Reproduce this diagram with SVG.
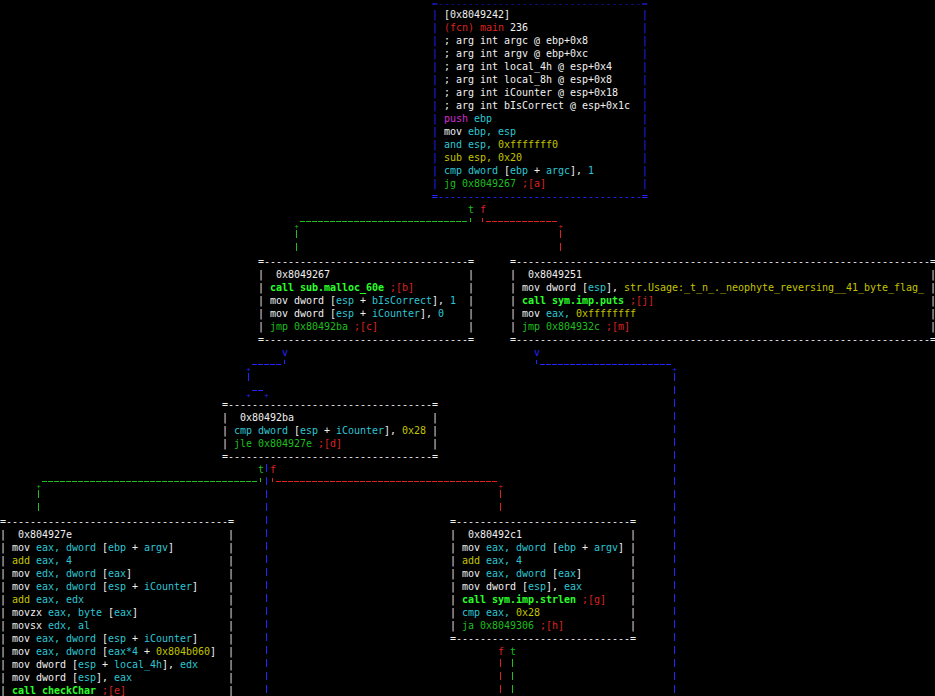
<svg xmlns="http://www.w3.org/2000/svg" width="935" height="696" viewBox="0 0 935 696">
<style>
text{font-family:"DejaVu Sans Mono","Liberation Mono",monospace;font-size:10px;letter-spacing:-0.02px;white-space:pre;fill:#f0f0f0}
.w{fill:#f0f0f0}.c{fill:#2ec5d3}.y{fill:#c4c400}.g{fill:#1dbf1d}.G{fill:#2bff2b;font-weight:bold}.r{fill:#dd2222}.m{fill:#d42ad4}.b{fill:#2424ff}
.k{font-size:7px;text-anchor:middle}
path{fill:none;stroke-width:1;shape-rendering:crispEdges}
.h{stroke-dasharray:5 1}.v{stroke-dasharray:8 5}
.sg{stroke:#1dbf1d}.sr{stroke:#dd2222}.sb{stroke:#2424ff}
</style>
<rect width="935" height="696" fill="#000"/>
<g id="connectors">
<text x="468" y="213" class="g">t</text><text x="480" y="213" class="r">f</text>
<path class="sg" d="M470.5 217.5V221.5"/><path class="sg h" d="M300 221.5H468"/><path class="sg v" d="M296.5 230V251"/><text class="k g" x="296.5" y="228.5">+</text>
<path class="sr" d="M482.5 217.5V221.5"/><path class="sr h" d="M486 221.5H558"/><path class="sr v" d="M560.5 230V251"/><text class="k r" x="560.5" y="228.5">+</text>
<text x="282" y="356" class="b">v</text>
<path class="sb" d="M284.5 359.5V363.5"/><path class="sb h" d="M252 364.5H282"/><text class="k b" x="248.5" y="371.5">+</text><path class="sb v" d="M248.5 373V381"/>
<text class="k b" x="248.5" y="397.5">+</text><path class="sb h" d="M252 390.5H264"/><text class="k b" x="266.5" y="397.5">+</text>
<text x="534" y="356" class="b">v</text>
<path class="sb" d="M536.5 359.5V363.5"/><path class="sb h" d="M540 364.5H672"/><text class="k b" x="674.5" y="371.5">+</text><path class="sb v" d="M674.5 373V696"/>
<text x="258" y="473" class="g">t</text><text x="270" y="473" class="r">f</text>
<path class="sb v" d="M266.5 464V696"/>
<path class="sg" d="M260.5 477.5V481.5"/><path class="sg h" d="M42 481.5H258"/><text class="k g" x="38.5" y="488.5">+</text><path class="sg v" d="M38.5 490V511"/>
<path class="sr" d="M272.5 477.5V481.5"/><path class="sr h" d="M276 481.5H498"/><text class="k r" x="500.5" y="488.5">+</text><path class="sr v" d="M500.5 490V511"/>
<text x="498" y="655" class="r">f</text><text x="510" y="655" class="g">t</text>
<path class="sr v" d="M500.5 659V696"/><path class="sg v" d="M512.5 659V696"/>
</g>
<g id="node-0x8049242">
<text transform="translate(432,6) scale(1,0.6)" class="b">=----------------------------------=</text>
<text x="432" y="200" class="b">=----------------------------------=</text>
<text class="b"><tspan x="432" y="18">|</tspan><tspan x="432" y="31">|</tspan><tspan x="432" y="44">|</tspan><tspan x="432" y="57">|</tspan><tspan x="432" y="70">|</tspan><tspan x="432" y="83">|</tspan><tspan x="432" y="96">|</tspan><tspan x="432" y="109">|</tspan><tspan x="432" y="122">|</tspan><tspan x="432" y="135">|</tspan><tspan x="432" y="148">|</tspan><tspan x="432" y="161">|</tspan><tspan x="432" y="174">|</tspan><tspan x="432" y="187">|</tspan></text>
<text class="b"><tspan x="642" y="18">|</tspan><tspan x="642" y="31">|</tspan><tspan x="642" y="44">|</tspan><tspan x="642" y="57">|</tspan><tspan x="642" y="70">|</tspan><tspan x="642" y="83">|</tspan><tspan x="642" y="96">|</tspan><tspan x="642" y="109">|</tspan><tspan x="642" y="122">|</tspan><tspan x="642" y="135">|</tspan><tspan x="642" y="148">|</tspan><tspan x="642" y="161">|</tspan><tspan x="642" y="174">|</tspan><tspan x="642" y="187">|</tspan></text>
<text x="444" y="18">[0x8049242]</text>
<text x="444" y="31" xml:space="preserve"><tspan class="r">(fcn) main</tspan> 236</text>
<text x="444" y="44">; arg int argc @ ebp+0x8</text>
<text x="444" y="57">; arg int argv @ ebp+0xc</text>
<text x="444" y="70">; arg int local_4h @ esp+0x4</text>
<text x="444" y="83">; arg int local_8h @ esp+0x8</text>
<text x="444" y="96">; arg int iCounter @ esp+0x18</text>
<text x="444" y="109">; arg int bIsCorrect @ esp+0x1c</text>
<text x="444" y="122" xml:space="preserve"><tspan class="m">push</tspan> <tspan class="c">ebp</tspan></text>
<text x="444" y="135" xml:space="preserve">mov <tspan class="c">ebp, esp</tspan></text>
<text x="444" y="148" xml:space="preserve"><tspan class="c">and esp, </tspan><tspan class="y">0xfffffff0</tspan></text>
<text x="444" y="161" class="y">sub esp, 0x20</text>
<text x="444" y="174" xml:space="preserve"><tspan class="c">cmp dword</tspan> [<tspan class="c">ebp</tspan> + <tspan class="c">argc</tspan>], <tspan class="c">1</tspan></text>
<text x="444" y="187" xml:space="preserve"><tspan class="g">jg 0x8049267</tspan> <tspan class="r">;[a]</tspan></text>
</g>
<g id="node-0x8049267">
<text x="258" y="265">=----------------------------------=</text>
<text x="258" y="343">=----------------------------------=</text>
<text><tspan x="258" y="278">|</tspan><tspan x="258" y="291">|</tspan><tspan x="258" y="304">|</tspan><tspan x="258" y="317">|</tspan><tspan x="258" y="330">|</tspan><tspan x="468" y="278">|</tspan><tspan x="468" y="291">|</tspan><tspan x="468" y="304">|</tspan><tspan x="468" y="317">|</tspan><tspan x="468" y="330">|</tspan></text>
<text x="276" y="278">0x8049267</text>
<text x="270" y="291" xml:space="preserve"><tspan class="G">call sub.malloc_60e</tspan> <tspan class="r">;[b]</tspan></text>
<text x="270" y="304" xml:space="preserve">mov dword [<tspan class="c">esp</tspan> + <tspan class="c">bIsCorrect</tspan>], <tspan class="c">1</tspan></text>
<text x="270" y="317" xml:space="preserve">mov dword [<tspan class="c">esp</tspan> + <tspan class="c">iCounter</tspan>], <tspan class="c">0</tspan></text>
<text x="270" y="330" xml:space="preserve"><tspan class="g">jmp 0x80492ba</tspan> <tspan class="r">;[c]</tspan></text>
</g>
<g id="node-0x8049251">
<text x="510" y="265">=---------------------------------------------------------------------=</text>
<text x="510" y="343">=---------------------------------------------------------------------=</text>
<text><tspan x="510" y="278">|</tspan><tspan x="510" y="291">|</tspan><tspan x="510" y="304">|</tspan><tspan x="510" y="317">|</tspan><tspan x="510" y="330">|</tspan><tspan x="930" y="278">|</tspan><tspan x="930" y="291">|</tspan><tspan x="930" y="304">|</tspan><tspan x="930" y="317">|</tspan><tspan x="930" y="330">|</tspan></text>
<text x="528" y="278">0x8049251</text>
<text x="522" y="291" xml:space="preserve">mov dword [<tspan class="c">esp</tspan>], <tspan class="y">str.Usage:_t_n_._neophyte_reversing__41_byte_flag_</tspan></text>
<text x="522" y="304" xml:space="preserve"><tspan class="G">call sym.imp.puts</tspan> <tspan class="r">;[j]</tspan></text>
<text x="522" y="317" xml:space="preserve">mov <tspan class="c">eax,</tspan> <tspan class="y">0xffffffff</tspan></text>
<text x="522" y="330" xml:space="preserve"><tspan class="g">jmp 0x804932c</tspan> <tspan class="r">;[m]</tspan></text>
</g>
<g id="node-0x80492ba">
<text x="222" y="408">=----------------------------------=</text>
<text x="222" y="460">=----------------------------------=</text>
<text><tspan x="222" y="421">|</tspan><tspan x="222" y="434">|</tspan><tspan x="222" y="447">|</tspan><tspan x="432" y="421">|</tspan><tspan x="432" y="434">|</tspan><tspan x="432" y="447">|</tspan></text>
<text x="240" y="421">0x80492ba</text>
<text x="234" y="434" xml:space="preserve"><tspan class="c">cmp dword</tspan> [<tspan class="c">esp</tspan> + <tspan class="c">iCounter</tspan>], <tspan class="y">0x28</tspan></text>
<text x="234" y="447" xml:space="preserve"><tspan class="g">jle 0x804927e</tspan> <tspan class="r">;[d]</tspan></text>
</g>
<g id="node-0x804927e">
<text x="0" y="525">=-------------------------------------=</text>
<text><tspan x="0" y="538">|</tspan><tspan x="0" y="551">|</tspan><tspan x="0" y="564">|</tspan><tspan x="0" y="577">|</tspan><tspan x="0" y="590">|</tspan><tspan x="0" y="603">|</tspan><tspan x="0" y="616">|</tspan><tspan x="0" y="629">|</tspan><tspan x="0" y="642">|</tspan><tspan x="0" y="655">|</tspan><tspan x="0" y="668">|</tspan><tspan x="0" y="681">|</tspan><tspan x="0" y="694">|</tspan></text>
<text><tspan x="228" y="538">|</tspan><tspan x="228" y="551">|</tspan><tspan x="228" y="564">|</tspan><tspan x="228" y="577">|</tspan><tspan x="228" y="590">|</tspan><tspan x="228" y="603">|</tspan><tspan x="228" y="616">|</tspan><tspan x="228" y="629">|</tspan><tspan x="228" y="642">|</tspan><tspan x="228" y="655">|</tspan><tspan x="228" y="668">|</tspan><tspan x="228" y="681">|</tspan><tspan x="228" y="694">|</tspan></text>
<text x="18" y="538">0x804927e</text>
<text x="12" y="551" xml:space="preserve">mov <tspan class="c">eax, dword</tspan> [<tspan class="c">ebp</tspan> + <tspan class="c">argv</tspan>]</text>
<text x="12" y="564" xml:space="preserve"><tspan class="y">add</tspan> <tspan class="c">eax, 4</tspan></text>
<text x="12" y="577" xml:space="preserve">mov <tspan class="c">edx, dword</tspan> [<tspan class="c">eax</tspan>]</text>
<text x="12" y="590" xml:space="preserve">mov <tspan class="c">eax, dword</tspan> [<tspan class="c">esp</tspan> + <tspan class="c">iCounter</tspan>]</text>
<text x="12" y="603" xml:space="preserve"><tspan class="y">add</tspan> <tspan class="c">eax, edx</tspan></text>
<text x="12" y="616" xml:space="preserve">movzx <tspan class="c">eax, byte</tspan> [<tspan class="c">eax</tspan>]</text>
<text x="12" y="629" xml:space="preserve">movsx <tspan class="c">edx, al</tspan></text>
<text x="12" y="642" xml:space="preserve">mov <tspan class="c">eax, dword</tspan> [<tspan class="c">esp</tspan> + <tspan class="c">iCounter</tspan>]</text>
<text x="12" y="655" xml:space="preserve">mov <tspan class="c">eax, dword</tspan> [<tspan class="c">eax*4</tspan> + <tspan class="y">0x804b060</tspan>]</text>
<text x="12" y="668" xml:space="preserve">mov dword [<tspan class="c">esp</tspan> + <tspan class="c">local_4h</tspan>], <tspan class="c">edx</tspan></text>
<text x="12" y="681" xml:space="preserve">mov dword [<tspan class="c">esp</tspan>], <tspan class="c">eax</tspan></text>
<text x="12" y="694" xml:space="preserve"><tspan class="G">call checkChar</tspan> <tspan class="r">;[e]</tspan></text>
</g>
<g id="node-0x80492c1">
<text x="450" y="525">=-----------------------------=</text>
<text x="450" y="642">=-----------------------------=</text>
<text><tspan x="450" y="538">|</tspan><tspan x="450" y="551">|</tspan><tspan x="450" y="564">|</tspan><tspan x="450" y="577">|</tspan><tspan x="450" y="590">|</tspan><tspan x="450" y="603">|</tspan><tspan x="450" y="616">|</tspan><tspan x="450" y="629">|</tspan><tspan x="630" y="538">|</tspan><tspan x="630" y="551">|</tspan><tspan x="630" y="564">|</tspan><tspan x="630" y="577">|</tspan><tspan x="630" y="590">|</tspan><tspan x="630" y="603">|</tspan><tspan x="630" y="616">|</tspan><tspan x="630" y="629">|</tspan></text>
<text x="468" y="538">0x80492c1</text>
<text x="462" y="551" xml:space="preserve">mov <tspan class="c">eax, dword</tspan> [<tspan class="c">ebp</tspan> + <tspan class="c">argv</tspan>]</text>
<text x="462" y="564" xml:space="preserve"><tspan class="y">add</tspan> <tspan class="c">eax, 4</tspan></text>
<text x="462" y="577" xml:space="preserve">mov <tspan class="c">eax, dword</tspan> [<tspan class="c">eax</tspan>]</text>
<text x="462" y="590" xml:space="preserve">mov dword [<tspan class="c">esp</tspan>], <tspan class="c">eax</tspan></text>
<text x="462" y="603" xml:space="preserve"><tspan class="G">call sym.imp.strlen</tspan> <tspan class="r">;[g]</tspan></text>
<text x="462" y="616" xml:space="preserve"><tspan class="c">cmp eax,</tspan> <tspan class="y">0x28</tspan></text>
<text x="462" y="629" xml:space="preserve"><tspan class="g">ja 0x8049306</tspan> <tspan class="r">;[h]</tspan></text>
</g>
</svg>
